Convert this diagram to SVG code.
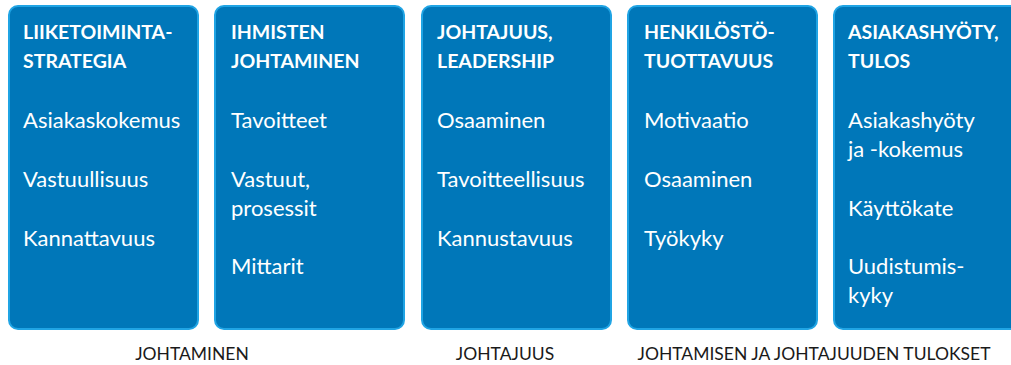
<svg xmlns="http://www.w3.org/2000/svg" width="1011" height="365" viewBox="0 0 1011 365">
  <style>
    .box { fill: #0077b9; stroke: #20a4e4; stroke-width: 2; }
    .title { font-family: Lato, "Liberation Sans", sans-serif; font-weight: bold; font-size: 19.5px; fill: #ffffff; }
    .item { font-family: Lato, "Liberation Sans", sans-serif; font-size: 22px; fill: #ffffff; }
    .label { font-family: Lato, "Liberation Sans", sans-serif; font-size: 17.5px; fill: #1a1a1a; text-anchor: middle; }
  </style>
  <rect width="1011" height="365" fill="#ffffff"/>

  <g id="liiketoimintastrategia">
    <rect class="box" x="9" y="6" width="189" height="323" rx="9"/>
    <text class="title" x="23" y="39">LIIKETOIMINTA-</text>
    <text class="title" x="23" y="68">STRATEGIA</text>
    <text class="item" x="23" y="128">Asiakaskokemus</text>
    <text class="item" x="23" y="187">Vastuullisuus</text>
    <text class="item" x="23" y="246">Kannattavuus</text>
  </g>

  <g id="ihmisten-johtaminen">
    <rect class="box" x="215" y="6" width="189" height="323" rx="9"/>
    <text class="title" x="231" y="39">IHMISTEN</text>
    <text class="title" x="231" y="68">JOHTAMINEN</text>
    <text class="item" x="231" y="128">Tavoitteet</text>
    <text class="item" x="231" y="187">Vastuut,</text>
    <text class="item" x="231" y="216">prosessit</text>
    <text class="item" x="231" y="274">Mittarit</text>
  </g>

  <g id="johtajuus-leadership">
    <rect class="box" x="422" y="6" width="189" height="323" rx="9"/>
    <text class="title" x="437" y="39">JOHTAJUUS,</text>
    <text class="title" x="437" y="68">LEADERSHIP</text>
    <text class="item" x="437" y="128">Osaaminen</text>
    <text class="item" x="437" y="187">Tavoitteellisuus</text>
    <text class="item" x="437" y="246">Kannustavuus</text>
  </g>

  <g id="henkilosto-tuottavuus">
    <rect class="box" x="628" y="6" width="189" height="323" rx="9"/>
    <text class="title" x="644" y="39">HENKILÖSTÖ-</text>
    <text class="title" x="644" y="68">TUOTTAVUUS</text>
    <text class="item" x="644" y="128">Motivaatio</text>
    <text class="item" x="644" y="187">Osaaminen</text>
    <text class="item" x="644" y="246">Työkyky</text>
  </g>

  <g id="asiakashyoty-tulos">
    <rect class="box" x="834" y="6" width="189" height="323" rx="9"/>
    <text class="title" x="848" y="39">ASIAKASHYÖTY,</text>
    <text class="title" x="848" y="68">TULOS</text>
    <text class="item" x="848" y="128">Asiakashyöty</text>
    <text class="item" x="848" y="157">ja -kokemus</text>
    <text class="item" x="848" y="216">Käyttökate</text>
    <text class="item" x="848" y="274">Uudistumis-</text>
    <text class="item" x="848" y="303">kyky</text>
  </g>

  <g id="group-labels">
    <text class="label" x="192" y="360">JOHTAMINEN</text>
    <text class="label" x="505" y="360">JOHTAJUUS</text>
    <text class="label" x="814" y="360">JOHTAMISEN JA JOHTAJUUDEN TULOKSET</text>
  </g>
</svg>
